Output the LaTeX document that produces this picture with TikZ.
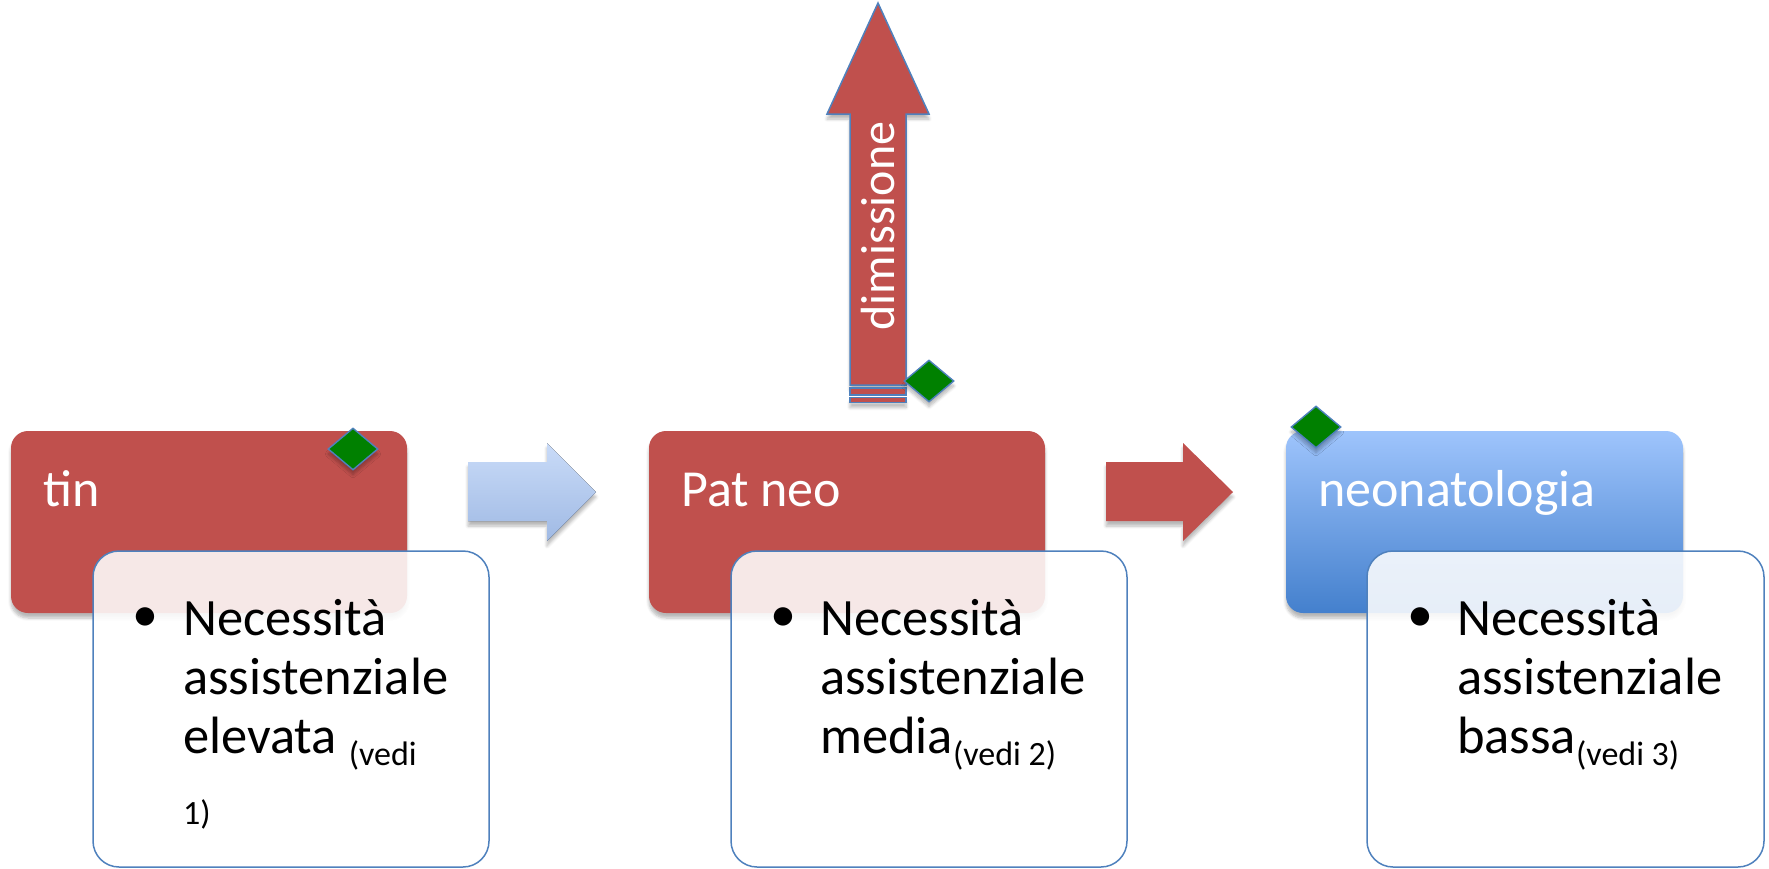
\documentclass[tikz,border=0pt]{standalone}
\usepackage{fontspec}
\setmainfont{Carlito}
\usetikzlibrary{shapes.geometric,shadows.blur}

\definecolor{boxred}{HTML}{C0504D}
\definecolor{lineblue}{HTML}{4F81BD}
\definecolor{leafgreen}{HTML}{008000}
\definecolor{skytop}{RGB}{158,196,252}
\definecolor{skybottom}{RGB}{68,128,205}
\definecolor{paletop}{RGB}{201,219,248}
\definecolor{palebottom}{RGB}{160,186,228}

% reference number set small and lowered after a bullet line
\newcommand\vediref[1]{\raisebox{-12pt}{\fontsize{34}{40}\selectfont #1}}

\tikzset{
  softshadow/.style={blur shadow={shadow xshift=0pt, shadow yshift=-5pt,
      shadow blur radius=3pt, shadow blur steps=6, shadow opacity=28}},
  header/.style={rectangle, rounded corners=17pt, minimum width=396pt,
      minimum height=182pt, inner sep=0pt, softshadow},
  headlabel/.style={anchor=base west, inner sep=0pt, text=white,
      font=\fontsize{52}{60}\selectfont},
  notebox/.style={rectangle, rounded corners=26pt, minimum width=396pt,
      minimum height=316pt, inner sep=0pt, draw=lineblue, line width=1.5pt,
      fill=white, fill opacity=0.87},
  bulletmark/.style={anchor=center, inner sep=0pt, font=\fontsize{52}{59}\selectfont},
  notetext/.style={anchor=base west, inner sep=0pt, font=\fontsize{52.5}{59}\selectfont},
  marker/.style={diamond, minimum width=50pt, minimum height=42pt, inner sep=0pt,
      fill=leafgreen, draw=lineblue, line width=1.4pt, softshadow},
  blockarrow/.style={softshadow},
  exitarrow/.style={fill=boxred, draw=lineblue, line width=1.5pt},
}

\begin{document}
\begin{tikzpicture}[x=1pt, y=-1pt]
\useasboundingbox (0,0) rectangle (1769,868);

% ---- block arrows between the stages
\fill[blockarrow, top color=paletop, bottom color=palebottom]
  (468,462) -- (547,462) -- (547,443) -- (596,492) -- (547,541) -- (547,521) -- (468,521) -- cycle;
\fill[blockarrow, boxred]
  (1106,462) -- (1183,462) -- (1183,443) -- (1233,492) -- (1183,541) -- (1183,521) -- (1106,521) -- cycle;

% ---- discharge arrow pointing up
\path[exitarrow, softshadow]
  (850,385) -- (850,114) -- (827,114) -- (878,3) -- (929,114) -- (906,114) -- (906,385) -- cycle;
\path[exitarrow] (850,388) rectangle (906,395);
\path[exitarrow, softshadow] (850,397.5) rectangle (906,402.5);
\node[rotate=90, anchor=base, inner sep=0pt, text=white,
      font=\fontsize{48}{56}\selectfont] (dimlabel) at (894,226) {dimissione};
\node[marker] (mk2) at (929,381) {};

% ---- stage headers
\node[header, fill=boxred] (tin) at (209,522) {};
\node[header, fill=boxred] (patneo) at (847,522) {};
\node[header, minimum width=397pt, top color=skytop, bottom color=skybottom] (neo) at (1484.5,522) {};

\node[headlabel] (tinlbl) at (43,506) {tin};
\node[headlabel] (patneolbl) at (681,506) {Pat neo};
\node[headlabel] (neolbl) at (1318,506) {neonatologia};

\node[marker] (mk1) at (353,449) {};
\node[marker] (mk3) at (1316,427) {};

% ---- note boxes
\node[notebox] (note1) at (291,709) {};
\node[notebox] (note2) at (929,709) {};
\node[notebox, minimum width=397pt] (note3) at (1565.5,709) {};

\node[bulletmark] (b1) at (145,620) {•};
\node[bulletmark] (b2) at (783,620) {•};
\node[bulletmark] (b3) at (1420,620) {•};

\node[notetext] (txt1) at (183,635) {\parbox[t]{300pt}{\raggedright\lineskiplimit=-60pt
  Necessità\\assistenziale\\elevata \vediref{(vedi}\\\vediref{1)}}};
\node[notetext] (txt2) at (820,635) {\parbox[t]{300pt}{\raggedright\lineskiplimit=-60pt
  Necessità\\assistenziale\\media\vediref{(vedi 2)}}};
\node[notetext] (txt3) at (1457,635) {\parbox[t]{300pt}{\raggedright\lineskiplimit=-60pt
  Necessità\\assistenziale\\bassa\vediref{(vedi 3)}}};
\end{tikzpicture}
\end{document}
